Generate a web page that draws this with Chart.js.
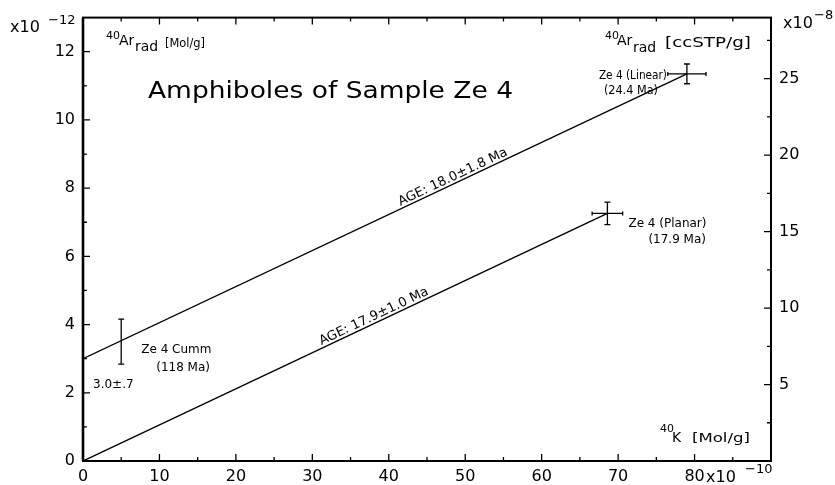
<!DOCTYPE html>
<html>
<head>
<meta charset="utf-8">
<script src="https://cdn.jsdelivr.net/npm/chart.js@4.4.1/dist/chart.umd.min.js"></script>
<style>
  html, body { margin: 0; padding: 0; background: #fff; }
  #wrap { width: 835px; height: 485px; }
</style>
</head>
<body>
<div id="wrap"><canvas id="isoChart"></canvas></div>
<script>
// 40K in 1e-10 Mol/g, 40Ar rad in 1e-12 Mol/g
const kMol = [5.0, 68.6, 79.0];
const arMol = [3.5, 7.26, 11.35];
const kErr = [0, 2.0, 2.5];
const arErr = [0.66, 0.33, 0.29];
const sampleNames = ['Ze 4 Cumm', 'Ze 4 (Planar)', 'Ze 4 (Linear)'];
const sampleAges = ['(118 Ma)', '(17.9 Ma)', '(24.4 Ma)'];

// isochron lines
const linearX = [0, 79.0];
const linearY = [3.0, 11.35];
const planarX = [0, 68.6];
const planarY = [0, 7.26];
const linearAge = 'AGE: 18.0±1.8 Ma';
const planarAge = 'AGE: 17.9±1.0 Ma';
const interceptText = '3.0±.7';

const xTicks = [0, 10, 20, 30, 40, 50, 60, 70, 80];
const yTicks = [0, 2, 4, 6, 8, 10, 12];
const ccTicks = [5, 10, 15, 20, 25];
const molToCc = 2.23; // 1e-12 Mol -> 1e-8 ccSTP, as on the right axis

const FONT = '"DejaVu Sans", sans-serif';

// text, optionally stretched horizontally to a given width
function txt(ctx, s, x, y, size, width, align) {
  ctx.font = size + 'px ' + FONT;
  ctx.textAlign = 'left';
  const w = ctx.measureText(s).width;
  const sx = width ? width / w : 1;
  const full = w * sx;
  let x0 = x;
  if (align === 'right') x0 = x - full;
  if (align === 'center') x0 = x - full / 2;
  ctx.save();
  ctx.translate(x0, y);
  ctx.scale(sx, 1);
  ctx.fillText(s, 0, 0);
  ctx.restore();
}

function ageLabel(ctx, x, y, xs, ys, s, frac) {
  const x0 = x.getPixelForValue(xs[0]), y0 = y.getPixelForValue(ys[0]);
  const x1 = x.getPixelForValue(xs[1]), y1 = y.getPixelForValue(ys[1]);
  ctx.save();
  ctx.translate(x0 + (x1 - x0) * frac, y0 + (y1 - y0) * frac);
  ctx.rotate(Math.atan2(y1 - y0, x1 - x0));
  txt(ctx, s, 0, -3, 13, 0, 'center');
  ctx.restore();
}

const decor = {
  id: 'decor',
  afterDraw(chart) {
    const {ctx, chartArea: a, scales: {x, y, y2}} = chart;
    ctx.save();
    ctx.strokeStyle = '#000';
    ctx.fillStyle = '#000';

    // inward ticks on all four sides
    ctx.lineWidth = 1.3;
    ctx.beginPath();
    for (let v = 5; v < 90; v += 5) {
      const px = x.getPixelForValue(v);
      const len = v % 10 === 0 ? 7 : 4;
      ctx.moveTo(px, a.bottom); ctx.lineTo(px, a.bottom - len);
      ctx.moveTo(px, a.top); ctx.lineTo(px, a.top + len);
    }
    for (let v = 1; v < 13; v += 1) {
      const py = y.getPixelForValue(v);
      ctx.moveTo(a.left, py); ctx.lineTo(a.left + (v % 2 === 0 ? 7 : 4), py);
    }
    for (let v = 2.5; v < 13 * molToCc; v += 2.5) {
      const py = y2.getPixelForValue(v);
      ctx.moveTo(a.right, py); ctx.lineTo(a.right - (v % 5 === 0 ? 7 : 4), py);
    }
    ctx.stroke();

    ctx.lineWidth = 2;
    ctx.strokeRect(a.left, a.top, a.right - a.left, a.bottom - a.top);
    ctx.lineWidth = 2.6;
    ctx.beginPath();
    ctx.moveTo(a.left, a.top); ctx.lineTo(a.left, a.bottom);
    ctx.stroke();

    // error bars
    ctx.lineWidth = 1.3;
    ctx.beginPath();
    kMol.forEach((k, i) => {
      const px = x.getPixelForValue(k), py = y.getPixelForValue(arMol[i]);
      const t = y.getPixelForValue(arMol[i] + arErr[i]), b = y.getPixelForValue(arMol[i] - arErr[i]);
      ctx.moveTo(px, t); ctx.lineTo(px, b);
      ctx.moveTo(px - 3, t); ctx.lineTo(px + 3, t);
      ctx.moveTo(px - 3, b); ctx.lineTo(px + 3, b);
      if (kErr[i] > 0) {
        const l = x.getPixelForValue(k - kErr[i]), r = x.getPixelForValue(k + kErr[i]);
        ctx.moveTo(l, py); ctx.lineTo(r, py);
        ctx.moveTo(l, py - 2); ctx.lineTo(l, py + 2);
        ctx.moveTo(r, py - 2); ctx.lineTo(r, py + 2);
      }
    });
    ctx.stroke();

    // sample labels
    ctx.textBaseline = 'alphabetic';
    const p = i => [x.getPixelForValue(kMol[i]), y.getPixelForValue(arMol[i])];
    let [px, py] = p(0);
    txt(ctx, sampleNames[0], px + 20, py + 11, 12);
    txt(ctx, sampleAges[0], px + 35, py + 29, 12);
    txt(ctx, interceptText, x.getPixelForValue(0) + 10, y.getPixelForValue(linearY[0]) + 29, 12);
    [px, py] = p(1);
    txt(ctx, sampleNames[1], px + 21, py + 14, 12);
    txt(ctx, sampleAges[1], px + 41, py + 30, 12);
    [px, py] = p(2);
    txt(ctx, sampleNames[2], px - 20, py + 5, 12, 68, 'right');
    txt(ctx, sampleAges[2], px - 29, py + 20, 12, 54, 'right');

    ageLabel(ctx, x, y, linearX, linearY, linearAge, 0.617);
    ageLabel(ctx, x, y, planarX, planarY, planarAge, 0.56);

    // title and axis captions
    txt(ctx, 'Amphiboles of Sample Ze 4', 148, 98, 23, 365);
    txt(ctx, '40', 106, 39, 11);
    txt(ctx, 'Ar', 119, 45, 14);
    txt(ctx, 'rad', 135, 51, 14);
    txt(ctx, '[Mol/g]', 165, 47, 13, 40);
    txt(ctx, '40', 605, 39, 11);
    txt(ctx, 'Ar', 617, 45, 14);
    txt(ctx, 'rad', 633, 52, 14);
    txt(ctx, '[ccSTP/g]', 665, 47, 14, 86);
    txt(ctx, '40', 660, 432, 11);
    txt(ctx, 'K', 672, 442, 14);
    txt(ctx, '[Mol/g]', 692, 442, 13, 58);

    // axis multipliers
    txt(ctx, 'x10', 10, 32, 16);
    txt(ctx, '\u221212', 48, 24, 13);
    txt(ctx, 'x10', 783, 28, 16);
    txt(ctx, '\u22128', 814, 19, 13);
    txt(ctx, 'x10', 706, 482, 16);
    txt(ctx, '\u221210', 745, 473, 13);
    ctx.restore();
  }
};

const pts = (xs, ys) => xs.map((v, i) => ({x: v, y: ys[i]}));
const tickFont = {family: FONT, size: 16};

new Chart(document.getElementById('isoChart'), {
  type: 'scatter',
  data: {
    datasets: [
      {data: pts(linearX, linearY), showLine: true, borderColor: '#000', borderWidth: 1.4, pointRadius: 0},
      {data: pts(planarX, planarY), showLine: true, borderColor: '#000', borderWidth: 1.4, pointRadius: 0},
      {data: pts(kMol, arMol), pointRadius: 0}
    ]
  },
  options: {
    responsive: true,
    maintainAspectRatio: false,
    animation: false,
    layout: {padding: {top: 14, left: 0, right: 0, bottom: 0}},
    plugins: {legend: {display: false}, tooltip: {enabled: false}},
    scales: {
      x: {
        type: 'linear', min: 0, max: 90,
        grid: {display: false, drawTicks: false}, border: {display: false},
        ticks: {font: tickFont, color: '#000', padding: 6, maxRotation: 0},
        afterBuildTicks: s => { s.ticks = xTicks.map(v => ({value: v})); },
        afterFit: s => { s.height = 24; }
      },
      y: {
        type: 'linear', min: 0, max: 13,
        grid: {display: false, drawTicks: false}, border: {display: false},
        ticks: {font: tickFont, color: '#000', padding: 8},
        afterBuildTicks: s => { s.ticks = yTicks.map(v => ({value: v})); },
        afterFit: s => { s.width = 83; }
      },
      y2: {
        type: 'linear', position: 'right', min: 0, max: 13 * molToCc,
        grid: {display: false, drawTicks: false}, border: {display: false},
        ticks: {font: tickFont, color: '#000', padding: 8},
        afterBuildTicks: s => { s.ticks = ccTicks.map(v => ({value: v})); },
        afterFit: s => { s.width = 64; }
      }
    }
  },
  plugins: [decor]
});
</script>
</body>
</html>
